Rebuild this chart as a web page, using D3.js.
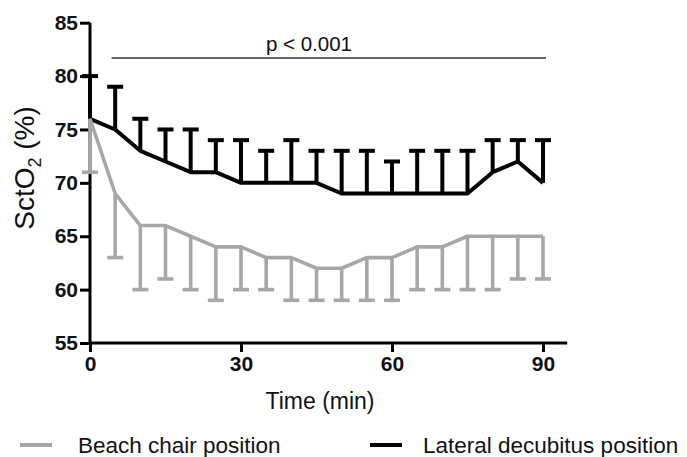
<!DOCTYPE html>
<html>
<head>
<meta charset="utf-8">
<script src="https://cdn.jsdelivr.net/npm/d3@7"></script>
<style>
  body { margin: 0; background: #fff; }
  svg text { font-family: "Liberation Sans", Arial, sans-serif; fill: #111; }
</style>
</head>
<body>
<svg id="chart" width="687" height="457"></svg>
<script>
/* ---------- data -------------------------------------------- */
const times       = [0, 5, 10, 15, 20, 25, 30, 35, 40, 45, 50, 55, 60, 65, 70, 75, 80, 85, 90];
const beachMean   = [76, 69, 66, 66, 65, 64, 64, 63, 63, 62, 62, 63, 63, 64, 64, 65, 65, 65, 65];
const beachLow    = [71, 63, 60, 61, 60, 59, 60, 60, 59, 59, 59, 59, 59, 60, 60, 60, 60, 61, 61];
const lateralMean = [76, 75, 73, 72, 71, 71, 70, 70, 70, 70, 69, 69, 69, 69, 69, 69, 71, 72, 70];
const lateralHigh = [80, 79, 76, 75, 75, 74, 74, 73, 74, 73, 73, 73, 72, 73, 73, 73, 74, 74, 74];

const xTicks = [0, 30, 60, 90];
const yTicks = [55, 60, 65, 70, 75, 80, 85];
const pSpan  = [4.3, 90.6];          // significance bar, in minutes
const pLabel = "p < 0.001";
const legendItems = ["Beach chair position", "Lateral decubitus position"];

/* ---------- setup ------------------------------------------- */
const GREY = "#a7a7aa", BLACK = "#000";
const svg = d3.select("#chart");

const x = d3.scaleLinear().domain([0, 90]).range([90, 543]);
const y = d3.scaleLinear().domain([55, 85]).range([343, 22.7]);

const beach   = times.map((t, i) => ({t, m: beachMean[i],   e: beachLow[i]}));
const lateral = times.map((t, i) => ({t, m: lateralMean[i], e: lateralHigh[i]}));

/* ---------- axes -------------------------------------------- */
const yAxis = svg.append("g")
    .attr("transform", `translate(${x(0)},0)`)
    .call(d3.axisLeft(y).tickValues(yTicks).tickSize(10).tickPadding(2));
const xAxis = svg.append("g")
    .attr("transform", `translate(0,${y(55)})`)
    .call(d3.axisBottom(x).tickValues(xTicks).tickSize(9).tickPadding(3));

[xAxis, yAxis].forEach(g => {
  g.select(".domain").remove();
  g.selectAll(".tick line").attr("stroke", BLACK).attr("stroke-width", 3);
  g.selectAll(".tick text")
    .attr("font-size", 21).attr("font-weight", "bold").attr("fill", "#111");
});
xAxis.selectAll(".tick text").attr("dy", "0.75em");

// axis lines (x axis runs a little past 90)
svg.append("line")
    .attr("x1", x(0)).attr("x2", x(94.8))
    .attr("y1", y(55)).attr("y2", y(55))
    .attr("stroke", BLACK).attr("stroke-width", 3);
svg.append("line")
    .attr("x1", x(0)).attr("x2", x(0))
    .attr("y1", y(55) + 1.5).attr("y2", y(85))
    .attr("stroke", BLACK).attr("stroke-width", 3);

/* ---------- series ------------------------------------------ */
const line = d3.line().x(d => x(d.t)).y(d => y(d.m));
const capW = 16;

function drawSeries(rows, colour, width) {
  const g = svg.append("g");
  // one-sided error bars
  g.selectAll("line.err").data(rows).enter().append("line")
      .attr("x1", d => x(d.t)).attr("x2", d => x(d.t))
      .attr("y1", d => y(d.m)).attr("y2", d => y(d.e))
      .attr("stroke", colour).attr("stroke-width", width);
  g.selectAll("line.cap").data(rows).enter().append("line")
      .attr("x1", d => x(d.t) - capW / 2).attr("x2", d => x(d.t) + capW / 2)
      .attr("y1", d => y(d.e)).attr("y2", d => y(d.e))
      .attr("stroke", colour).attr("stroke-width", width);
  g.append("path").datum(rows)
      .attr("d", line)
      .attr("fill", "none")
      .attr("stroke", colour).attr("stroke-width", width)
      .attr("stroke-linejoin", "round");
}
drawSeries(lateral, BLACK, 4);
drawSeries(beach, GREY, 3.6);

/* ---------- significance bar -------------------------------- */
svg.append("line")
    .attr("x1", x(pSpan[0])).attr("x2", x(pSpan[1]))
    .attr("y1", 58).attr("y2", 58)
    .attr("stroke", "#333").attr("stroke-width", 1.6);
svg.append("text")
    .attr("x", x(43.5)).attr("y", 51)
    .attr("text-anchor", "middle")
    .attr("font-size", 20.5)
    .text(pLabel);

/* ---------- axis titles ------------------------------------- */
svg.append("text")
    .attr("x", 320).attr("y", 409)
    .attr("text-anchor", "middle")
    .attr("font-size", 23)
    .text("Time (min)");

const yt = svg.append("text")
    .attr("transform", "translate(34,168) rotate(-90)")
    .attr("text-anchor", "middle")
    .attr("font-size", 28);
yt.append("tspan").text("SctO");
yt.append("tspan").attr("font-size", 18).attr("dy", 7).text("2");
yt.append("tspan").attr("dy", -7).text(" (%)");

/* ---------- legend ------------------------------------------ */
const legend = [
  {label: legendItems[0], colour: GREY,  x0: 20,  tx: 78},
  {label: legendItems[1], colour: BLACK, x0: 370, tx: 423}
];
const lg = svg.append("g").selectAll("g").data(legend).enter().append("g");
lg.append("line")
    .attr("x1", d => d.x0).attr("x2", d => d.x0 + 32)
    .attr("y1", 445).attr("y2", 445)
    .attr("stroke", d => d.colour).attr("stroke-width", 4);
lg.append("text")
    .attr("x", d => d.tx).attr("y", 453)
    .attr("font-size", 22.5)
    .text(d => d.label);
</script>
</body>
</html>
